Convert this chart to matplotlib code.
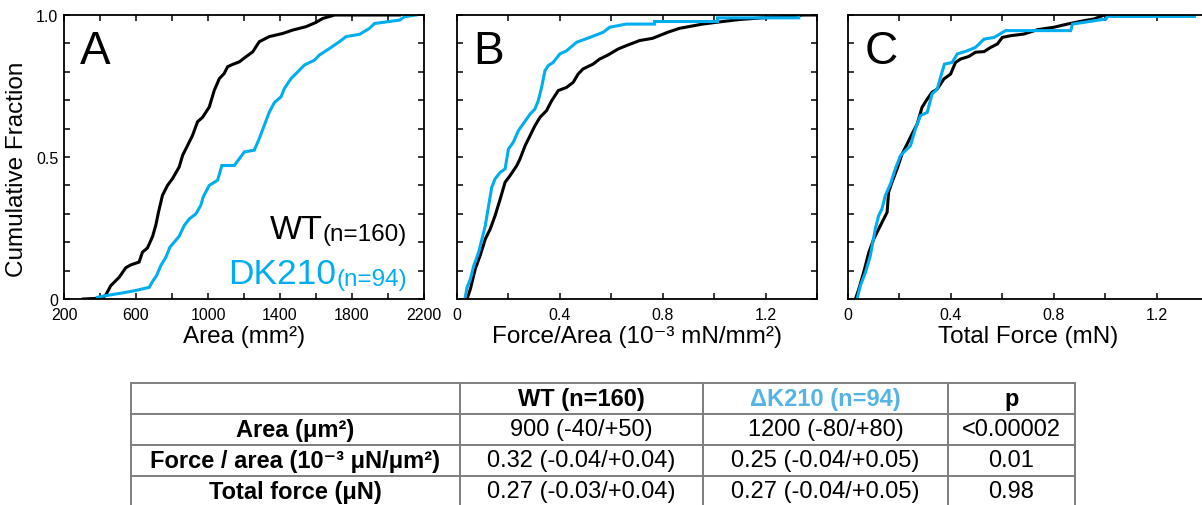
import matplotlib
matplotlib.use('Agg')
import matplotlib.pyplot as plt
from matplotlib.ticker import FixedLocator, MultipleLocator

plt.rcParams['font.family'] = ['Liberation Sans', 'DejaVu Sans']

BLACK = '#000000'
BLUE = '#00AEEF'
TABLE_BLUE = '#55B4E6'

# cumulative fraction curves (x value, fraction)
area_wt_x = [307, 413, 432, 460, 506, 543, 571, 617, 636, 664, 692, 710, 725, 747, 775, 803,
             840, 859, 886, 914, 942, 970, 1007, 1035, 1063, 1090, 1109, 1137, 1174, 1211,
             1248, 1285, 1341, 1415, 1471, 1545, 1600, 1638, 1693, 1700, 2064]
area_wt_y = [0.0, 0.003, 0.014, 0.047, 0.076, 0.11, 0.12, 0.13, 0.165, 0.18, 0.22, 0.26, 0.306,
             0.365, 0.40, 0.424, 0.465, 0.506, 0.54, 0.576, 0.624, 0.64, 0.676, 0.735, 0.776,
             0.794, 0.818, 0.826, 0.835, 0.853, 0.87, 0.906, 0.924, 0.935, 0.947, 0.959, 0.974,
             0.988, 0.998, 1.0, 1.0]
area_dk_x = [385, 432, 521, 599, 673, 695, 714, 738, 766, 788, 840, 868, 896, 933, 960, 973,
             1007, 1053, 1077, 1146, 1174, 1202, 1257, 1285, 1313, 1341, 1369, 1406, 1424, 1461,
             1499, 1536, 1591, 1619, 1675, 1730, 1767, 1842, 1897, 1925, 2064, 2092, 2157]
area_dk_y = [0.006, 0.012, 0.021, 0.03, 0.041, 0.065, 0.082, 0.118, 0.147, 0.182, 0.221, 0.259,
             0.282, 0.30, 0.33, 0.359, 0.40, 0.418, 0.47, 0.47, 0.494, 0.518, 0.524, 0.565, 0.612,
             0.659, 0.692, 0.712, 0.741, 0.776, 0.80, 0.824, 0.841, 0.859, 0.882, 0.906, 0.924,
             0.932, 0.953, 0.97, 0.982, 0.994, 1.0]

fa_wt_x = [0.039, 0.052, 0.071, 0.09, 0.11, 0.129, 0.148, 0.168, 0.187, 0.206, 0.232, 0.245,
           0.265, 0.284, 0.303, 0.323, 0.348, 0.368, 0.394, 0.426, 0.452, 0.471, 0.49, 0.529,
           0.555, 0.587, 0.626, 0.658, 0.71, 0.761, 0.819, 0.865, 0.955, 1.006, 1.097, 1.187,
           1.30, 1.345, 1.45]
fa_wt_y = [0.0, 0.035, 0.106, 0.153, 0.211, 0.246, 0.293, 0.352, 0.411, 0.434, 0.469, 0.493,
           0.54, 0.575, 0.61, 0.64, 0.663, 0.698, 0.734, 0.745, 0.763, 0.792, 0.81, 0.827,
           0.845, 0.859, 0.88, 0.892, 0.91, 0.918, 0.939, 0.953, 0.968, 0.974, 0.984, 0.99,
           0.995, 1.0, 1.0]
fa_dk_x = [0.032, 0.039, 0.052, 0.065, 0.084, 0.097, 0.11, 0.123, 0.135, 0.148, 0.168, 0.187,
           0.2, 0.219, 0.239, 0.252, 0.271, 0.284, 0.303, 0.316, 0.329, 0.342, 0.355, 0.374,
           0.4, 0.426, 0.465, 0.516, 0.568, 0.594, 0.658, 0.768, 0.768, 1.013, 1.013, 1.329,
           1.329]
fa_dk_y = [0.006, 0.041, 0.07, 0.117, 0.164, 0.211, 0.258, 0.329, 0.393, 0.423, 0.446, 0.458,
           0.528, 0.552, 0.593, 0.61, 0.634, 0.651, 0.669, 0.698, 0.745, 0.804, 0.822, 0.833,
           0.863, 0.874, 0.904, 0.921, 0.939, 0.957, 0.968, 0.968, 0.977, 0.977, 0.99, 0.99,
           1.0]

tf_wt_x = [0.029, 0.042, 0.061, 0.081, 0.1, 0.119, 0.139, 0.152, 0.158, 0.171, 0.191, 0.21,
           0.23, 0.249, 0.269, 0.288, 0.308, 0.327, 0.347, 0.373, 0.399, 0.418, 0.438, 0.47,
           0.496, 0.529, 0.555, 0.581, 0.6, 0.632, 0.684, 0.736, 0.801, 0.853, 0.918, 0.957,
           0.996, 1.197]
tf_wt_y = [0.0, 0.035, 0.094, 0.164, 0.211, 0.246, 0.282, 0.305, 0.376, 0.411, 0.458, 0.51,
           0.546, 0.581, 0.616, 0.675, 0.704, 0.728, 0.739, 0.775, 0.792, 0.833, 0.845, 0.854,
           0.869, 0.871, 0.886, 0.898, 0.921, 0.927, 0.933, 0.948, 0.957, 0.968, 0.98, 0.986,
           1.0, 1.0]
tf_dk_x = [0.035, 0.048, 0.068, 0.087, 0.106, 0.119, 0.132, 0.145, 0.165, 0.184, 0.204, 0.223,
           0.243, 0.262, 0.282, 0.308, 0.327, 0.347, 0.36, 0.375, 0.405, 0.425, 0.464, 0.496,
           0.529, 0.568, 0.613, 0.866, 0.873, 1.003, 1.009, 1.347, 1.347]
tf_dk_y = [0.0, 0.047, 0.094, 0.153, 0.246, 0.293, 0.317, 0.364, 0.405, 0.458, 0.505, 0.522,
           0.54, 0.599, 0.646, 0.657, 0.722, 0.739, 0.781, 0.827, 0.833, 0.863, 0.874, 0.886,
           0.915, 0.921, 0.945, 0.945, 0.968, 0.986, 0.995, 0.995, 1.0]

panel_letters = ['A', 'B', 'C']
x_labels = ['Area (mm²)', 'Force/Area (10⁻³ mN/mm²)', 'Total Force (mN)']
x_limits = [(200, 2200), (0, 1.4), (0, 1.4)]
x_major = [[200, 600, 1000, 1400, 1800, 2200], [0, 0.4, 0.8, 1.2], [0, 0.4, 0.8, 1.2]]
x_major_labels = [['200', '600', '1000', '1400', '1800', '2200'],
                  ['0', '0.4', '0.8', '1.2'], ['0', '0.4', '0.8', '1.2']]
x_minor = [200, 0.2, 0.2]
y_major = [0, 0.5, 1.0]
y_major_labels = ['0', '0.5', '1.0']

# table contents
table_cols = ['', 'WT (n=160)', 'ΔK210 (n=94)', 'p']
table_rows = ['Area (μm²)', 'Force / area (10⁻³ μN/μm²)', 'Total force (μN)']
wt_values = ['900 (-40/+50)', '0.32 (-0.04/+0.04)', '0.27 (-0.03/+0.04)']
dk_values = ['1200 (-80/+80)', '0.25 (-0.04/+0.05)', '0.27 (-0.04/+0.05)']
p_values = ['<0.00002', '0.01', '0.98']

W, H = 1202, 506
fig = plt.figure(figsize=(W / 100, H / 100), dpi=100)

lefts = [64, 457, 848]
curves = [(area_wt_x, area_wt_y, area_dk_x, area_dk_y),
          (fa_wt_x, fa_wt_y, fa_dk_x, fa_dk_y),
          (tf_wt_x, tf_wt_y, tf_dk_x, tf_dk_y)]

axes = []
for i in range(3):
    ax = fig.add_axes([lefts[i] / W, (H - 300) / H, 360 / W, 284 / H])
    wx, wy, dx, dy = curves[i]
    ax.plot(wx, wy, color=BLACK, lw=2.2, solid_joinstyle='miter')
    ax.plot(dx, dy, color=BLUE, lw=2.2, solid_joinstyle='miter')
    ax.set_xlim(*x_limits[i])
    ax.set_ylim(0, 1.0)
    ax.xaxis.set_major_locator(FixedLocator(x_major[i]))
    ax.set_xticklabels(x_major_labels[i])
    ax.xaxis.set_minor_locator(MultipleLocator(x_minor[i]))
    ax.yaxis.set_major_locator(FixedLocator(y_major))
    ax.yaxis.set_minor_locator(MultipleLocator(0.1))
    if i == 0:
        ax.set_yticklabels(y_major_labels)
        ax.set_ylabel('Cumulative Fraction', fontsize=17.5)
        ax.yaxis.set_label_coords(-0.1, 0.46)
    else:
        ax.set_yticklabels([])
    ax.tick_params(which='both', direction='in', top=True, right=True,
                   length=4, width=1.1, labelsize=11.5)
    ax.tick_params(axis='x', pad=6)
    ax.tick_params(axis='y', pad=4)
    ax.set_xlabel(x_labels[i], fontsize=17.5)
    ax.xaxis.set_label_coords(0.5, -0.09)
    for s in ax.spines.values():
        s.set_linewidth(1.3)
    ax.text(0.045, 0.95, panel_letters[i], transform=ax.transAxes,
            fontsize=33, va='top', ha='left')
    axes.append(ax)

# group labels in panel A
ax = axes[0]
n_wt = ax.text(2105, 0.19, '(n=160)', fontsize=17.5, ha='right', va='bottom')
ax.annotate('WT', xy=(0, 0), xycoords=n_wt, fontsize=24.5, ha='right', va='bottom')
n_dk = ax.text(2105, 0.03, '(n=94)', fontsize=17.5, ha='right', va='bottom', color=BLUE)
ax.annotate('DK210', xy=(0, 0), xycoords=n_dk, fontsize=25.5, ha='right', va='bottom',
            color=BLUE)

# summary table
col_w = [329, 243, 245, 127]
row_h = 31
tx0, ty0 = 131, 384
n_rows = len(table_rows) + 1
tab_ax = fig.add_axes([tx0 / W, (H - ty0 - n_rows * row_h) / H,
                       sum(col_w) / W, n_rows * row_h / H])
tab_ax.set_axis_off()
cell_text = [table_cols] + [[r, a, b, c] for r, a, b, c in
                            zip(table_rows, wt_values, dk_values, p_values)]
tab = tab_ax.table(cellText=cell_text, colWidths=[c / sum(col_w) for c in col_w],
                   bbox=[0, 0, 1, 1], cellLoc='center')
tab.auto_set_font_size(False)
for (r, c), cell in tab.get_celld().items():
    cell.set_edgecolor('#7f7f7f')
    cell.set_linewidth(1.4)
    cell.PAD = 0.02
    txt = cell.get_text()
    txt.set_fontsize(17)
    if r == 0 or c == 0:
        txt.set_fontweight('bold')
    if r == 0 and c == 2:
        txt.set_color(TABLE_BLUE)

fig.savefig('out.png', dpi=100)
